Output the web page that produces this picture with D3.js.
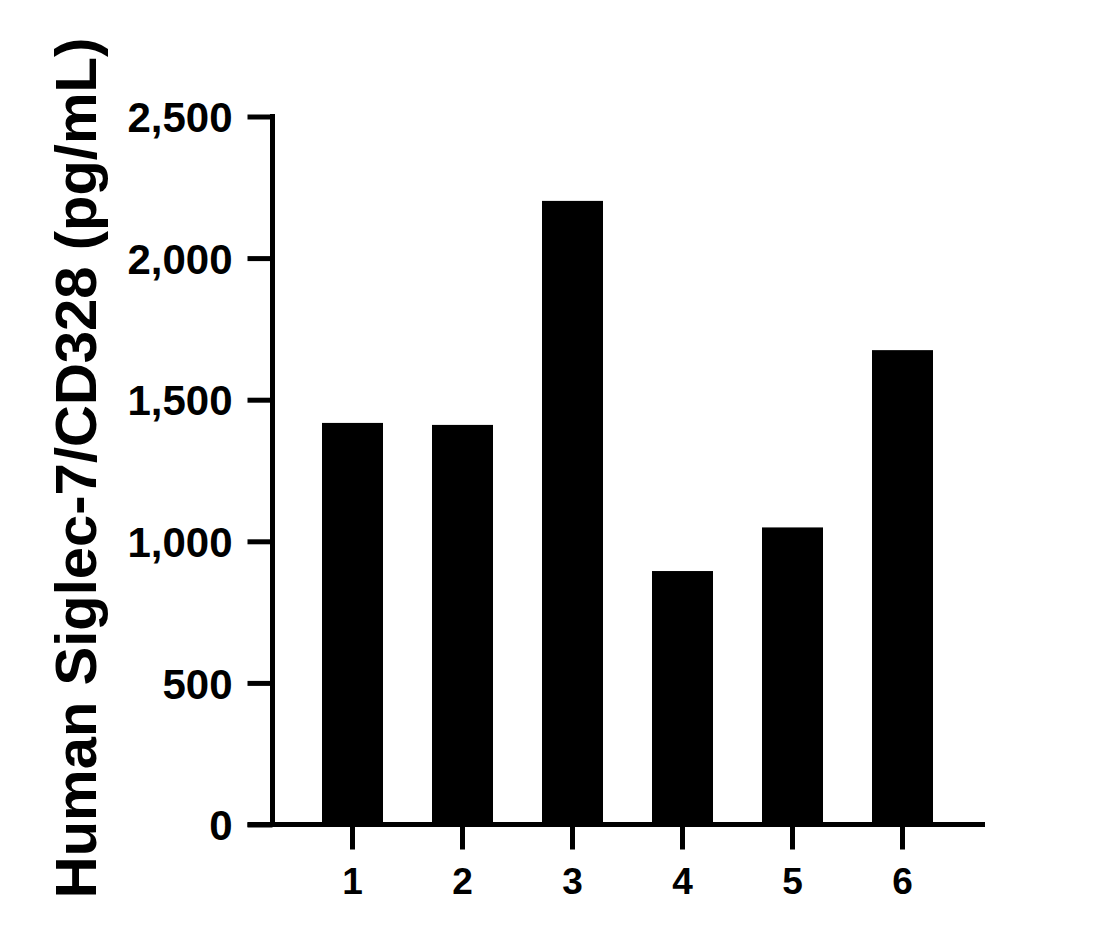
<!DOCTYPE html>
<html>
<head>
<meta charset="utf-8">
<script src="https://cdn.jsdelivr.net/npm/d3@7"></script>
<style>
  html, body { margin: 0; padding: 0; background: #fff; }
  svg { display: block; }
  text { font-family: "Liberation Sans", Arial, sans-serif; font-weight: bold; fill: #000; }
</style>
</head>
<body>
<script>
const categories = ["1", "2", "3", "4", "5", "6"];
const values = [1418, 1411, 2202, 895, 1049, 1675];
const yTicks = [0, 500, 1000, 1500, 2000, 2500];
const yTitle = "Human Siglec-7/CD328 (pg/mL)";

const W = 1120, H = 941;
const svg = d3.select("body").append("svg").attr("width", W).attr("height", H);

const axisX = 272.5, baseY = 824.5, topY = 116.5, xEnd = 985;
const sw = 5;

const y = d3.scaleLinear().domain([0, 2500]).range([baseY, topY]);
const pi = 1 - 61 / 110;
const x = d3.scaleBand().domain(categories).range([297.5, 957.5])
  .paddingInner(pi).paddingOuter(pi / 2);

// bars
svg.append("g").selectAll("rect").data(values).join("rect")
  .attr("x", (d, i) => x(categories[i]))
  .attr("width", x.bandwidth())
  .attr("y", d => y(d))
  .attr("height", d => baseY - y(d))
  .attr("fill", "#000");

// y axis
const gy = svg.append("g").attr("transform", `translate(${axisX},0)`)
  .call(d3.axisLeft(y).tickValues(yTicks).tickFormat(d3.format(",")).tickSize(25).tickSizeOuter(0).tickPadding(15));
gy.select(".domain").attr("stroke", "#000").attr("stroke-width", sw)
  .attr("d", `M0,${baseY}V${topY - sw / 2}`);
gy.selectAll(".tick line").attr("stroke", "#000").attr("stroke-width", sw);
gy.selectAll(".tick text").attr("font-size", 42).attr("dy", "0.36em")
  .style("font-family", '"Liberation Sans", Arial, sans-serif').style("font-weight", "bold").attr("fill", "#000");

// x axis
const gx = svg.append("g").attr("transform", `translate(0,${baseY})`)
  .call(d3.axisBottom(x).tickSize(25).tickSizeOuter(0).tickPadding(18));
gx.select(".domain").remove();
gx.selectAll(".tick line").attr("stroke", "#000").attr("stroke-width", sw);
gx.selectAll(".tick text").attr("font-size", 37).attr("dy", "0.71em")
  .style("font-family", '"Liberation Sans", Arial, sans-serif').style("font-weight", "bold").attr("fill", "#000");
svg.append("line")
  .attr("x1", axisX - 25).attr("x2", xEnd)
  .attr("y1", baseY).attr("y2", baseY)
  .attr("stroke", "#000").attr("stroke-width", sw);

// y title
svg.append("text")
  .attr("transform", `translate(96,468) rotate(-90)`)
  .attr("text-anchor", "middle")
  .attr("font-size", 58)
  .text(yTitle);
</script>
</body>
</html>
